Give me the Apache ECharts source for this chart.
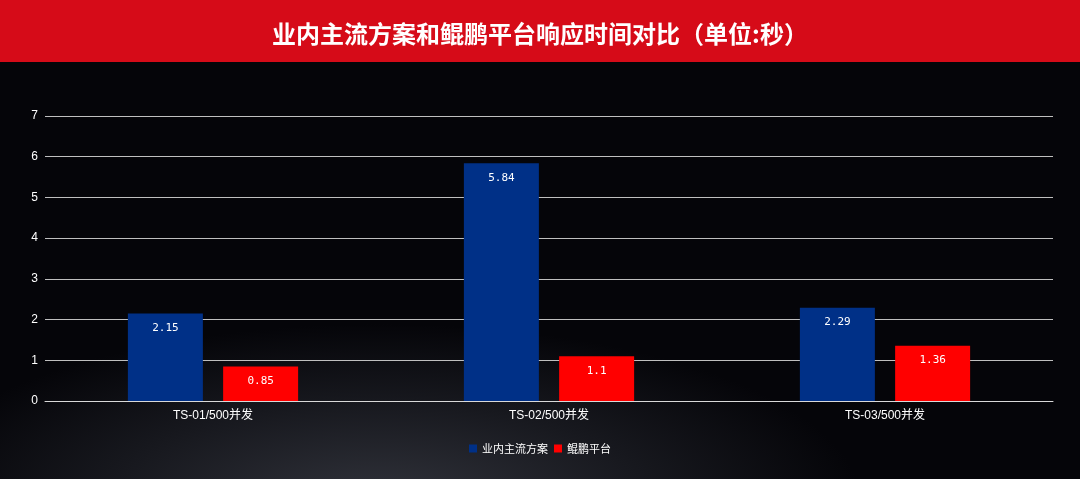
<!DOCTYPE html>
<html><head><meta charset="utf-8">
<script src="https://cdn.jsdelivr.net/npm/echarts@6/dist/echarts.min.js"></script>
<style>
html,body{margin:0;padding:0;width:1080px;height:479px;overflow:hidden;
background: radial-gradient(ellipse 600px 220px at 380px 500px, #30323a 0%, #17181e 45%, #050509 80%), #040408;}
#c{width:1080px;height:479px;}
</style></head><body>
<div id="c"></div>
<script>
const categories = ['TS-01/500并发','TS-02/500并发','TS-03/500并发'];
const seriesNames = ['业内主流方案','鲲鹏平台'];
const industryValues = [2.15, 5.84, 2.29];
const kunpengValues = [0.85, 1.1, 1.36];
const titleText = '业内主流方案和鲲鹏平台响应时间对比（单位:秒）';

const chart = echarts.init(document.getElementById('c'));
const labelOpt = {show:true, position:'insideTop', distance:9, color:'#fff', fontSize:11, fontFamily:'DejaVu Sans Mono'};
const axFont = 'Liberation Sans, Noto Sans CJK SC';
chart.setOption({
  backgroundColor:'transparent',
  graphic:[{type:'rect', left:0, top:0, shape:{width:1080, height:62}, style:{fill:'#d60b18'}, z:-1}],
  title:{text:titleText, left:'center', top:17, textStyle:{color:'#fff', fontSize:24, fontWeight:'bold', fontFamily:'Noto Sans CJK SC'}},
  legend:{data:seriesNames, bottom:20, left:'center', itemWidth:8, itemHeight:8, itemGap:6, icon:'rect',
    textStyle:{color:'#fff', fontSize:11, fontFamily:'Noto Sans CJK SC'}},
  grid:{left:45, right:27, top:116, bottom:78},
  xAxis:{type:'category', data:categories,
    axisLine:{lineStyle:{color:'#d9d9d9'}}, axisTick:{show:false},
    axisLabel:{color:'#fff', fontSize:12, margin:9, fontFamily:axFont}},
  yAxis:{type:'value', min:0, max:7, interval:1,
    axisLine:{show:false}, axisTick:{show:false},
    axisLabel:{color:'#fff', fontSize:12, margin:7, fontFamily:axFont},
    splitLine:{lineStyle:{color:'#bfbfbf', width:1}}},
  series:[
    {name:seriesNames[0], type:'bar', data:industryValues, barWidth:75, barGap:'27%', itemStyle:{color:'#003087'}, label:labelOpt},
    {name:seriesNames[1], type:'bar', data:kunpengValues, barWidth:75, itemStyle:{color:'#ff0000'}, label:labelOpt}
  ]
});
</script></body></html>
